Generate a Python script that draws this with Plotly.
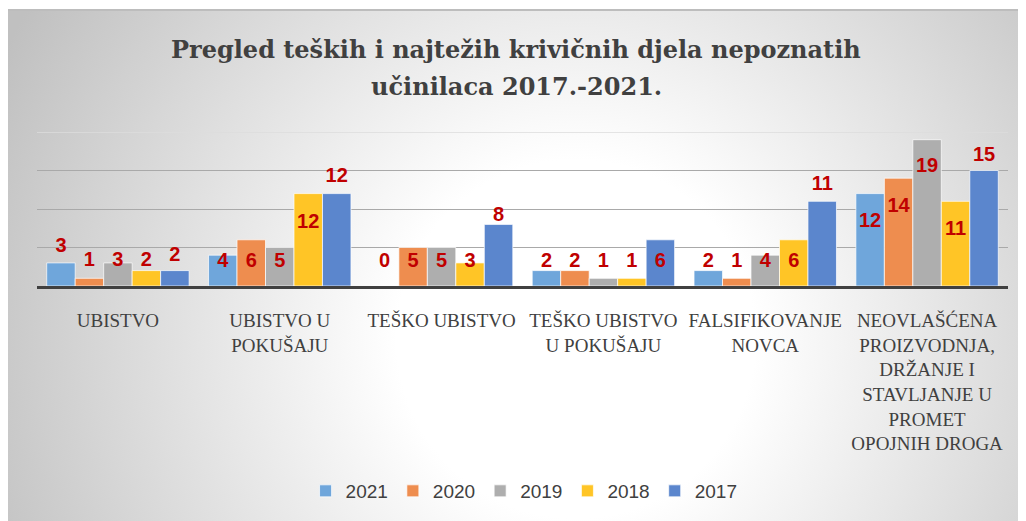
import base64
import plotly.graph_objects as go

kategorije = ["UBISTVO", "UBISTVO U<br>POKUŠAJU", "TEŠKO UBISTVO", "TEŠKO UBISTVO<br>U POKUŠAJU",
              "FALSIFIKOVANJE<br>NOVCA",
              "NEOVLAŠĆENA<br>PROIZVODNJA,<br>DRŽANJE I<br>STAVLJANJE U<br>PROMET<br>OPOJNIH DROGA"]

godine = ["2021", "2020", "2019", "2018", "2017"]

podaci = {
    "2021": [3, 4, 0, 2, 2, 12],
    "2020": [1, 6, 5, 2, 1, 14],
    "2019": [3, 5, 5, 1, 4, 19],
    "2018": [2, 12, 3, 1, 6, 11],
    "2017": [2, 12, 8, 6, 11, 15],
}

# gdje stoje oznake (rucno pomjerene u originalnom grafikonu)
pozicije_oznaka = {
    "2021": [5.1, 3.1, 3.1, 3.1, 3.1, 8.3],
    "2020": [3.2, 3.1, 3.1, 3.1, 3.1, 10.2],
    "2019": [3.2, 3.1, 3.1, 3.1, 3.1, 15.4],
    "2018": [3.2, 8.2, 3.1, 3.1, 3.1, 7.3],
    "2017": [3.9, 14.1, 9.1, 3.1, 13.1, 16.9],
}

boje = {"2021": "#6FA6DB", "2020": "#EE8D4F", "2019": "#AEAEAE", "2018": "#FFC526", "2017": "#5B86CD"}

naslov = ["Pregled teških i najtežih krivičnih djela nepoznatih", "učinilaca 2017.-2021."]

W, H = 1026, 521
ml, mr, mt, mb = 29, 26, 124, 243
bargap = 0.12

# pozadina s radijalnim prelazom
svg = (
    "<svg xmlns='http://www.w3.org/2000/svg' width='1028' height='520'>"
    "<defs><radialGradient id='g' gradientUnits='userSpaceOnUse' cx='570' cy='330' r='640'>"
    "<stop offset='0' stop-color='#ffffff'/><stop offset='0.28' stop-color='#ffffff'/>"
    "<stop offset='1' stop-color='#c0c0c0'/></radialGradient></defs>"
    "<rect x='0' y='0' width='1028' height='520' fill='url(#g)'/>"
    "<rect x='0.5' y='0.5' width='1027' height='519' fill='none' stroke='#cfcfcf' stroke-width='1'/>"
    "<rect x='0' y='0' width='1028' height='2' fill='#bdbdbd'/>"
    "</svg>"
)
izvor = "data:image/svg+xml;base64," + base64.b64encode(svg.encode("utf-8")).decode("ascii")

pw = W - ml - mr
ph = H - mt - mb

fig = go.Figure()

x = list(range(len(kategorije)))
for g in godine:
    fig.add_trace(go.Bar(
        x=x, y=podaci[g], name=g,
        marker=dict(color=boje[g], line=dict(color="rgba(255,255,255,0.7)", width=1)),
        hoverinfo="y",
    ))

sirina = (1 - bargap) / len(godine)
for j, g in enumerate(godine):
    pomak = -(1 - bargap) / 2 + sirina * (j + 0.5)
    fig.add_trace(go.Scatter(
        x=[i + pomak for i in x], y=pozicije_oznaka[g],
        mode="text", text=[str(v) for v in podaci[g]],
        textfont=dict(family="Liberation Sans", size=20, color="#C00000", weight="bold"),
        textposition="middle center",
        showlegend=False, hoverinfo="skip", cliponaxis=False,
    ))

# naslov u dva reda, svaki red posebno (vece prorede kao u Excelu)
for red, y_px in zip(naslov, [42, 78]):
    fig.add_annotation(
        text="<b>" + red + "</b>", xref="paper", yref="paper",
        x=(508 - ml) / pw, y=(H - mb - y_px) / ph, xanchor="center", yanchor="middle",
        showarrow=False, font=dict(family="DejaVu Serif", size=24, color="#404040"),
    )

fig.update_layout(
    template="none",
    width=W, height=H,
    margin=dict(l=ml, r=mr, t=mt, b=mb),
    paper_bgcolor="white",
    plot_bgcolor="rgba(0,0,0,0)",
    barmode="group",
    bargap=bargap,
    bargroupgap=0,
    legend=dict(
        orientation="h", xref="container", yref="container",
        x=0.503, xanchor="center", y=1 - 483 / H, yanchor="middle",
        font=dict(family="Liberation Sans", size=19, color="#404040"),
        bgcolor="rgba(0,0,0,0)", traceorder="normal",
    ),
    xaxis=dict(
        range=[-0.5, len(kategorije) - 0.5],
        tickmode="array", tickvals=x, ticktext=kategorije, tickangle=0,
        ticks="outside", ticklen=15, tickcolor="rgba(0,0,0,0)",
        tickfont=dict(family="Liberation Serif", size=19, color="#404040"),
        showline=True, linecolor="#404040", linewidth=3,
        showgrid=False, zeroline=False,
    ),
    yaxis=dict(
        range=[0, 20], tickvals=[5, 10, 15], showticklabels=False,
        showgrid=True, gridcolor="#A9A9A9", gridwidth=1.3,
        zeroline=False, showline=False, ticks="",
    ),
    shapes=[dict(type="line", xref="paper", x0=0, x1=1, yref="y", y0=20, y1=20,
                 line=dict(color="#DCDCDC", width=1.5), layer="below")],
    images=[dict(
        source=izvor, xref="paper", yref="paper",
        x=(-2 - ml) / pw, y=(H - mb - 1) / ph, sizex=1028 / pw, sizey=520 / ph,
        xanchor="left", yanchor="top", sizing="stretch", layer="below",
    )],
)

fig.write_html("out.html")
